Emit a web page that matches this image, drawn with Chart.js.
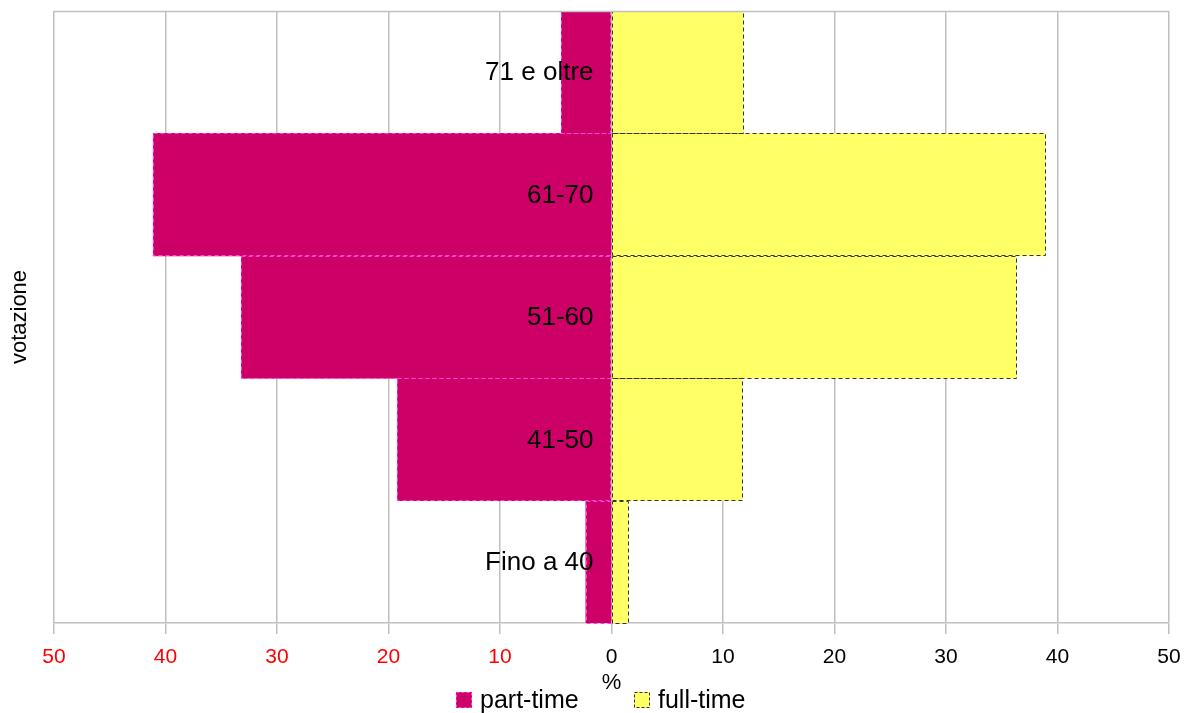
<!DOCTYPE html>
<html>
<head>
<meta charset="utf-8">
<script src="https://cdn.jsdelivr.net/npm/chart.js@4.4.0/dist/chart.umd.min.js"></script>
<style>
  html, body { margin: 0; padding: 0; background: #fff; }
  #wrap { width: 1184px; height: 713px; }
</style>
</head>
<body>
<div id="wrap"><canvas id="pyramid"></canvas></div>
<script>
/* Piramide votazione: part-time vs full-time */

const categories = ['71 e oltre', '61-70', '51-60', '41-50', 'Fino a 40'];
const partTime = [4.5, 41.1, 33.2, 19.2, 2.3];
const fullTime = [11.8, 38.9, 36.3, 11.7, 1.5];
const xTicks = [-50, -40, -30, -20, -10, 0, 10, 20, 30, 40, 50];

const FONT = '"Liberation Sans", Arial, sans-serif';

// bars drawn by the library, dashed outline stroked on top of each element
const dashedBorders = {
  id: 'dashedBorders',
  afterDatasetsDraw(chart) {
    const ctx = chart.ctx;
    chart.data.datasets.forEach((ds, i) => {
      const meta = chart.getDatasetMeta(i);
      ctx.save();
      ctx.strokeStyle = ds.dashColor;
      ctx.lineWidth = 1;
      ctx.setLineDash([4, 3]);
      meta.data.forEach(bar => {
        const p = bar.getProps(['x', 'y', 'base', 'height'], true);
        const left = Math.min(p.x, p.base), right = Math.max(p.x, p.base);
        ctx.strokeRect(Math.round(left) + 0.5, Math.round(p.y - p.height / 2) + 0.5,
          Math.round(right - left), Math.round(p.height));
      });
      ctx.restore();
    });
  }
};

// category names next to the zero line, top frame line, legend at the bottom
const categoryLabels = {
  id: 'categoryLabels',
  afterDatasetsDraw(chart) {
    const ctx = chart.ctx;
    const x = chart.scales.x, y = chart.scales.y;
    const area = chart.chartArea;
    ctx.save();
    ctx.strokeStyle = '#c0c0c0';
    ctx.lineWidth = 1.5;
    ctx.beginPath();
    ctx.moveTo(area.left, area.top + 0.5);
    ctx.lineTo(area.right, area.top + 0.5);
    ctx.stroke();
    ctx.fillStyle = '#000';
    ctx.font = '26px ' + FONT;
    ctx.textAlign = 'right';
    ctx.textBaseline = 'middle';
    const x0 = x.getPixelForValue(0) - 18;
    categories.forEach((c, i) => {
      ctx.fillText(c, x0, y.getPixelForValue(i) + 1);
    });
    ctx.restore();
  },
  afterDraw(chart) {
    const ctx = chart.ctx;
    const cy = 700;
    let lx = 456;
    ctx.save();
    ctx.font = '25px ' + FONT;
    ctx.textAlign = 'left';
    ctx.textBaseline = 'middle';
    chart.data.datasets.forEach(ds => {
      ctx.fillStyle = ds.backgroundColor;
      ctx.fillRect(lx, cy - 8, 16, 16);
      ctx.strokeStyle = ds.dashColor;
      ctx.lineWidth = 1;
      ctx.setLineDash([3, 2]);
      ctx.strokeRect(lx + 0.5, cy - 7.5, 15, 15);
      ctx.setLineDash([]);
      ctx.fillStyle = '#000';
      ctx.fillText(ds.label, lx + 24, cy + 1);
      lx += 178;
    });
    ctx.restore();
  }
};

new Chart(document.getElementById('pyramid'), {
  type: 'bar',
  data: {
    labels: categories,
    datasets: [{
      label: 'part-time',
      data: partTime.map(v => -v),
      backgroundColor: '#cc0066',
      borderWidth: 0,
      dashColor: '#ff44dd'
    }, {
      label: 'full-time',
      data: fullTime,
      backgroundColor: '#ffff66',
      borderWidth: 0,
      dashColor: '#333333'
    }]
  },
  options: {
    indexAxis: 'y',
    responsive: true,
    maintainAspectRatio: false,
    animation: false,
    barPercentage: 1,
    categoryPercentage: 1,
    layout: { padding: { top: 11, right: 15, left: 4, bottom: 21 } },
    plugins: {
      tooltip: { enabled: false },
      legend: { display: false }
    },
    scales: {
      x: {
        stacked: true,
        min: -50,
        max: 50,
        afterBuildTicks(scale) {
          scale.ticks = xTicks.map(v => ({ value: v }));
        },
        afterFit(scale) {
          scale.paddingLeft = 12;
          scale.paddingRight = 12;
          scale.height = 69;
        },
        grid: { color: '#c0c0c0', lineWidth: 1.5, tickLength: 11 },
        border: { color: '#c0c0c0', width: 1.5 },
        ticks: {
          padding: 11,
          font: { family: FONT, size: 21 },
          color: ctx => ctx.tick && ctx.tick.value < 0 ? '#ff0000' : '#000000',
          callback: v => Math.abs(v)
        },
        title: {
          display: true,
          text: '%',
          color: '#000',
          font: { family: FONT, size: 22, lineHeight: 1 },
          padding: { top: 0, bottom: -2 }
        }
      },
      y: {
        stacked: true,
        grid: { display: false },
        border: { display: false },
        ticks: { display: false },
        title: {
          display: true,
          text: 'votazione',
          color: '#000',
          font: { family: FONT, size: 22, lineHeight: 1 },
          padding: { top: 5, bottom: 15 }
        }
      }
    }
  },
  plugins: [dashedBorders, categoryLabels]
});
</script>
</body>
</html>
